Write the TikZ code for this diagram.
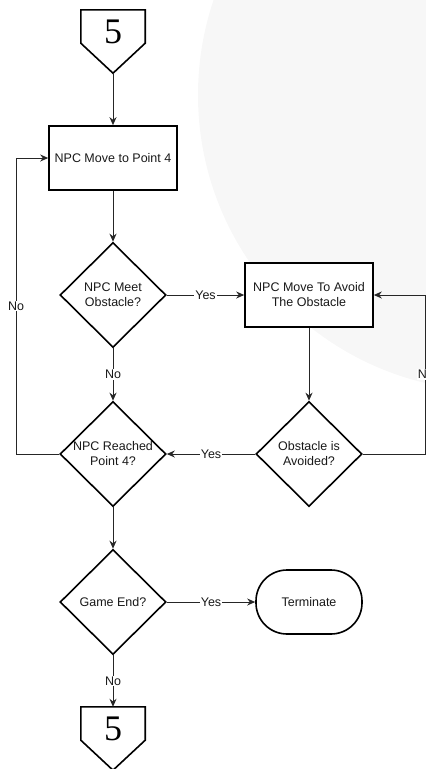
\documentclass[tikz,border=0pt]{standalone}
\usepackage{fontspec}
\setmainfont{Liberation Sans}
\newfontfamily\numfont{Liberation Serif}
\usetikzlibrary{arrows.meta, positioning, shapes.geometric}

\begin{document}
\begin{tikzpicture}[
        x=1pt, y=1pt,
        node distance=137pt,
        font=\fontsize{12.5}{15}\selectfont,
        process/.style={rectangle, draw=black, line width=1.6pt, fill=white, minimum width=128pt,
                        minimum height=64pt, text centered, align=center, text=black!90},
        decision/.style={diamond, draw=black, line width=1.6pt, fill=white, align=center,
                        minimum width=106pt, minimum height=105pt, inner sep=0pt, text=black!90},
        terminal/.style={rectangle, rounded corners=31pt, draw=black, line width=1.6pt, fill=white,
                        minimum width=106pt, minimum height=64pt, text=black!90},
        offpage/.style={rectangle, minimum width=64pt, minimum height=63pt, inner sep=0pt,
                        text height=25pt, text depth=20.6pt, font=\numfont\fontsize{36}{36}\selectfont},
        border/.style={draw=black, line width=1.6pt, fill=white},
        arrow/.style={draw=black!85, line width=1pt, -{Stealth[length=8pt, width=7pt]}},
        lbl/.style={fill=white, inner sep=1pt, text=black!90}
    ]
        \useasboundingbox (0,0) rectangle (426,-769);
        \coordinate (bgcentre) at (494,-95);
        \fill[black!3] (bgcentre) circle (296pt);

        \node[process] (movepoint) at (113,-158) {NPC Move to Point 4};
        \node[offpage, above of=movepoint, yshift=-20.5pt] (conntop) {};
        \node[decision, below of=movepoint] (meetcheck) {NPC Meet\\Obstacle?};
        \node[process, right of=meetcheck, xshift=59pt] (avoidmove) {NPC Move To Avoid\\The Obstacle};
        \node[decision, below of=meetcheck, yshift=-22pt] (reachcheck) {NPC Reached\\Point 4?};
        \node[decision, right of=reachcheck, xshift=59pt] (avoidcheck) {Obstacle is\\Avoided?};
        \node[decision, below of=reachcheck, yshift=-11pt] (endcheck) {Game End?};
        \node[terminal, right of=endcheck, xshift=59pt] (terminate) {Terminate};
        \node[offpage, below of=endcheck, yshift=0.5pt] (connbot) {};

        % off-page connectors (pentagon drawn round the node, number on top)
        \filldraw[border] (conntop.north west) -- (conntop.north east) -- ([yshift=30pt]conntop.south east)
            -- (conntop.south) -- ([yshift=30pt]conntop.south west) -- cycle;
        \filldraw[border] (connbot.north west) -- (connbot.north east) -- ([yshift=30pt]connbot.south east)
            -- (connbot.south) -- ([yshift=30pt]connbot.south west) -- cycle;
        \node[offpage] at (conntop) {5};
        \node[offpage] at (connbot) {5};

        \draw[arrow] (conntop) -- (movepoint);
        \draw[arrow] (movepoint) -- (meetcheck);
        \draw[arrow] (meetcheck) -- node[lbl] {Yes} (avoidmove);
        \draw[arrow] (meetcheck) -- node[lbl] {No} (reachcheck);
        \draw[arrow] (avoidmove) -- (avoidcheck);
        \draw[arrow] (avoidcheck) -- node[lbl] {Yes} (reachcheck);
        \draw[arrow] (avoidcheck.east) -- ++(63,0) |- node[lbl, pos=0.25] {No} (avoidmove.east);
        \draw[arrow] (reachcheck.west) -- ++(-43,0) |- node[lbl, pos=0.25] {No} (movepoint.west);
        \draw[arrow] (reachcheck) -- (endcheck);
        \draw[arrow] (endcheck) -- node[lbl] {Yes} (terminate);
        \draw[arrow] (endcheck) -- node[lbl] {No} (connbot);
    \end{tikzpicture}
\end{document}
